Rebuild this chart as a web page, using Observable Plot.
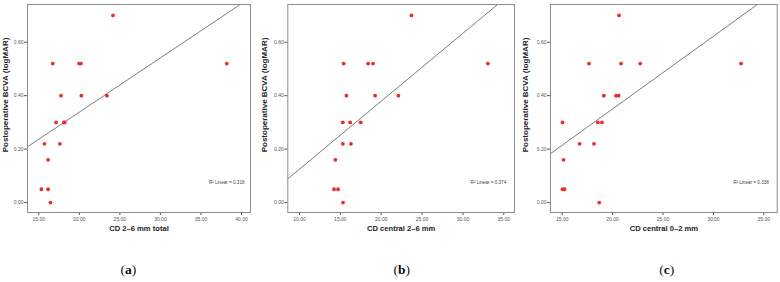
<!DOCTYPE html>
<html>
<head>
<meta charset="utf-8">
<script src="https://cdn.jsdelivr.net/npm/d3@7"></script>
<script src="https://cdn.jsdelivr.net/npm/@observablehq/plot@0.6"></script>
<style>
  html, body { margin: 0; padding: 0; background: #fff; }
  #wrap { position: relative; width: 780px; height: 282px; overflow: hidden; }
  .panel { position: absolute; top: 0; }
  .letter { position: absolute; top: 262px; width: 40px; text-align: center;
            font-family: "Liberation Serif", "Times New Roman", serif; font-size: 13.5px; color: #111; }
  .letter b { font-weight: bold; }
</style>
</head>
<body>
<div id="wrap"></div>
<script>
// Postoperative BCVA (logMAR) – same 17 values in each panel
const bcva = [0.70, 0.52, 0.52, 0.52, 0.52, 0.40, 0.40, 0.40, 0.30, 0.30, 0.30, 0.22, 0.22, 0.16, 0.05, 0.05, 0.00];
// (a) CD 2–6 mm total
const cdTotal26 = [24.15, 16.72, 19.97, 20.2, 38.19, 17.75, 20.25, 23.4, 17.13, 18.1, 18.2, 15.7, 17.6, 16.15, 15.33, 16.15, 16.44];
// (b) CD central 2–6 mm
const cdCentral26 = [23.7, 15.4, 18.4, 19.0, 33.05, 15.74, 19.25, 22.1, 15.3, 16.2, 17.5, 15.3, 16.3, 14.39, 14.23, 14.72, 15.33];
// (c) CD central 0–2 mm
const cdCentral02 = [20.64, 17.66, 20.84, 22.74, 32.75, 19.13, 20.34, 20.6, 15.03, 18.54, 18.94, 16.73, 18.15, 15.13, 15.03, 15.23, 18.67];

const xTicksA = [15, 20, 25, 30, 35, 40];
const xTicksB = [10, 15, 20, 25, 30, 35];
const xTicksC = [15, 20, 25, 30, 35];
const yTicks = [0, 0.2, 0.4, 0.6];
const xLabels = ["CD 2–6 mm total", "CD central 2–6 mm", "CD central 0–2 mm"];
const yLabel = "Postoperative BCVA (logMAR)";
const r2Labels = ["R² Linear = 0.318", "R² Linear = 0.374", "R² Linear = 0.338"];
const letters = ["a", "b", "c"];

const fmt = d3.format(".2f");

function regression(xs, ys) {
  const mx = d3.mean(xs), my = d3.mean(ys);
  let sxy = 0, sxx = 0;
  xs.forEach((x, i) => { sxy += (x - mx) * (ys[i] - my); sxx += (x - mx) ** 2; });
  const b = sxy / sxx;
  return { b, a: my - b * mx };
}

const panels = [
  { xs: cdTotal26,  domain: [13.61, 41.11], ticks: xTicksA, left: 0,   mL: 27, mR: 10, yDx: -22, r2Dx: -6 },
  { xs: cdCentral26, domain: [8.57, 36.31], ticks: xTicksB, left: 260, mL: 27.3, mR: 6, yDx: -23, r2Dx: -8.3 },
  { xs: cdCentral02, domain: [13.84, 36.33], ticks: xTicksC, left: 520, mL: 30, mR: 3.3, yDx: -25.5, r2Dx: -8.4 }
];

const wrap = document.getElementById("wrap");
const yDomain = [-0.037, 0.741];

panels.forEach((p, i) => {
  const data = p.xs.map((x, j) => ({ x, y: bcva[j] }));
  const { a, b } = regression(p.xs, bcva);
  const lineData = p.domain.map(x => ({ x, y: a + b * x }));
  const chart = Plot.plot({
    width: 260,
    height: 240,
    marginLeft: p.mL,
    marginRight: p.mR,
    marginTop: 4,
    marginBottom: 28,
    x: { domain: p.domain, label: null },
    y: { domain: yDomain, label: null },
    style: { fontFamily: "'Liberation Sans', Arial, sans-serif", background: "white", overflow: "visible" },
    marks: [
      Plot.axisX({ ticks: p.ticks, tickFormat: fmt, tickSize: 3, tickPadding: 2, fontSize: 5, color: "#555", label: null }),
      Plot.axisY({ ticks: yTicks, tickFormat: fmt, tickSize: 3, tickPadding: 1, fontSize: 5, color: "#555", label: null }),
      Plot.line(lineData, { x: "x", y: "y", stroke: "#6e6e6e", strokeWidth: 0.9, clip: true }),
      Plot.dot(data, { x: "x", y: "y", r: 1.9, fill: "#ee2a2e", stroke: "none" }),
      Plot.frame({ stroke: "#8c8c8c", strokeWidth: 1 }),
      Plot.text([r2Labels[i]], { text: d => d, frameAnchor: "bottom-right", textAnchor: "end", dx: p.r2Dx, dy: -29, fontSize: 4.6, fill: "#444" }),
      Plot.text([xLabels[i]], { text: d => d, frameAnchor: "bottom", textAnchor: "middle", dy: 18, fontSize: 7.6, fontWeight: "bold", fill: "#222" }),
      Plot.text([yLabel], { text: d => d, frameAnchor: "left", textAnchor: "middle", rotate: -90, dx: p.yDx, dy: -13.5, fontSize: 8, fontWeight: "bold", fill: "#222" })
    ]
  });
  chart.classList.add("panel");
  chart.style.left = p.left + "px";
  wrap.appendChild(chart);
});

const letterCenters = [128.3, 401.7, 666.7];
letters.forEach((l, i) => {
  const div = document.createElement("div");
  div.className = "letter";
  div.style.left = (letterCenters[i] - 20) + "px";
  div.innerHTML = "(<b>" + l + "</b>)";
  wrap.appendChild(div);
});
</script>
</body>
</html>
